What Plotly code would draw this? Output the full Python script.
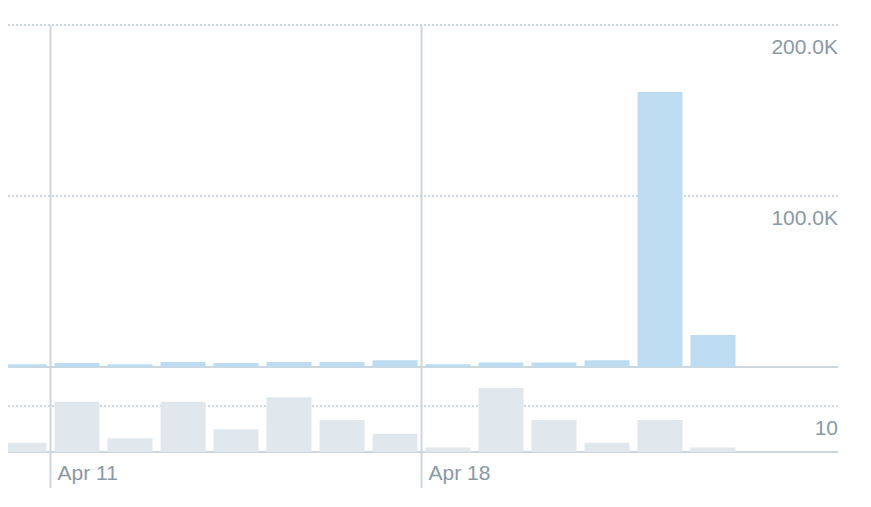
import plotly.graph_objects as go

# daily values
days = ["2018-04-10", "2018-04-11", "2018-04-12", "2018-04-13", "2018-04-14",
        "2018-04-15", "2018-04-16", "2018-04-17", "2018-04-18", "2018-04-19",
        "2018-04-20", "2018-04-21", "2018-04-22", "2018-04-23", "2018-04-24"]
impressions = [1600, 2300, 1600, 2900, 2300, 2900, 2900, 3900,
               1600, 2600, 2600, 3900, 160800, 18700, 0]
tweets = [2, 11, 3, 11, 5, 12, 7, 4, 1, 14, 7, 2, 7, 1, 0]

week_ticks = ["2018-04-11", "2018-04-18"]
week_labels = ["Apr 11", "Apr 18"]
imp_ticks = [100000, 200000]
imp_labels = ["100.0K", "200.0K"]
tweet_ticks = [10]
tweet_labels = ["10"]

line_col = "#ccd6dd"
text_col = "#8899a6"
font_family = "Helvetica Neue, Helvetica, Arial, Liberation Sans, sans-serif"
DAY_MS = 86400000

# panel sizes in px (top panel has 2px head room so the 200K grid line is kept)
top_h = 344
bot_h = 85
plot_h = top_h + bot_h

fig = go.Figure()

# Impressions (top panel)
fig.add_trace(go.Bar(x=days, y=impressions, xaxis="x", yaxis="y2",
                     xperiod=DAY_MS, xperiodalignment="middle",
                     marker=dict(color="#bddcf2", line=dict(width=0)),
                     hoverinfo="skip"))

# Tweets (bottom panel)
fig.add_trace(go.Bar(x=days, y=tweets, xaxis="x", yaxis="y",
                     xperiod=DAY_MS, xperiodalignment="middle",
                     marker=dict(color="#e1e8ed", line=dict(width=0)),
                     hoverinfo="skip"))

# week separator lines run from the 200K grid line down past the date labels
for d in week_ticks:
    fig.add_shape(type="line", xref="x", yref="paper", x0=d, x1=d,
                  y0=-36 / plot_h, y1=1 - 2 / plot_h,
                  line=dict(color=line_col, width=2), layer="below")

grid = dict(showgrid=True, gridcolor=line_col, gridwidth=1.5, griddash="2px,2px",
            zeroline=True, zerolinecolor=line_col, zerolinewidth=2,
            showline=False, ticks="", side="right", anchor="x",
            ticklabelposition="inside bottom", ticklabelshift=7,
            ticklabelstandoff=-3,
            tickfont=dict(family=font_family, size=21, color=text_col))

fig.update_layout(
    width=863, height=499,
    margin=dict(l=0, r=33, t=15, b=55, autoexpand=False),
    paper_bgcolor="white", plot_bgcolor="white",
    showlegend=False,
    bargap=8 / 53,
    font=dict(family=font_family, size=21, color=text_col),
    xaxis=dict(
        type="date",
        range=["2018-04-10 04:45", "2018-04-25 20:36"],
        anchor="y",
        showgrid=False, zeroline=False, showline=False,
        tickvals=week_ticks, ticktext=week_labels,
        ticks="", ticklabelposition="outside right",
        ticklabelstandoff=6, ticklabelshift=7,
        tickfont=dict(family=font_family, size=21, color=text_col),
    ),
    yaxis=dict(
        domain=[0, bot_h / plot_h], range=[0, 85 / 4.57],
        tickvals=tweet_ticks, ticktext=tweet_labels,
        **grid,
    ),
    yaxis2=dict(
        domain=[bot_h / plot_h, 1], range=[0, 200000 * top_h / 342],
        tickvals=imp_ticks, ticktext=imp_labels,
        **grid,
    ),
)

fig.write_html("out.html")
